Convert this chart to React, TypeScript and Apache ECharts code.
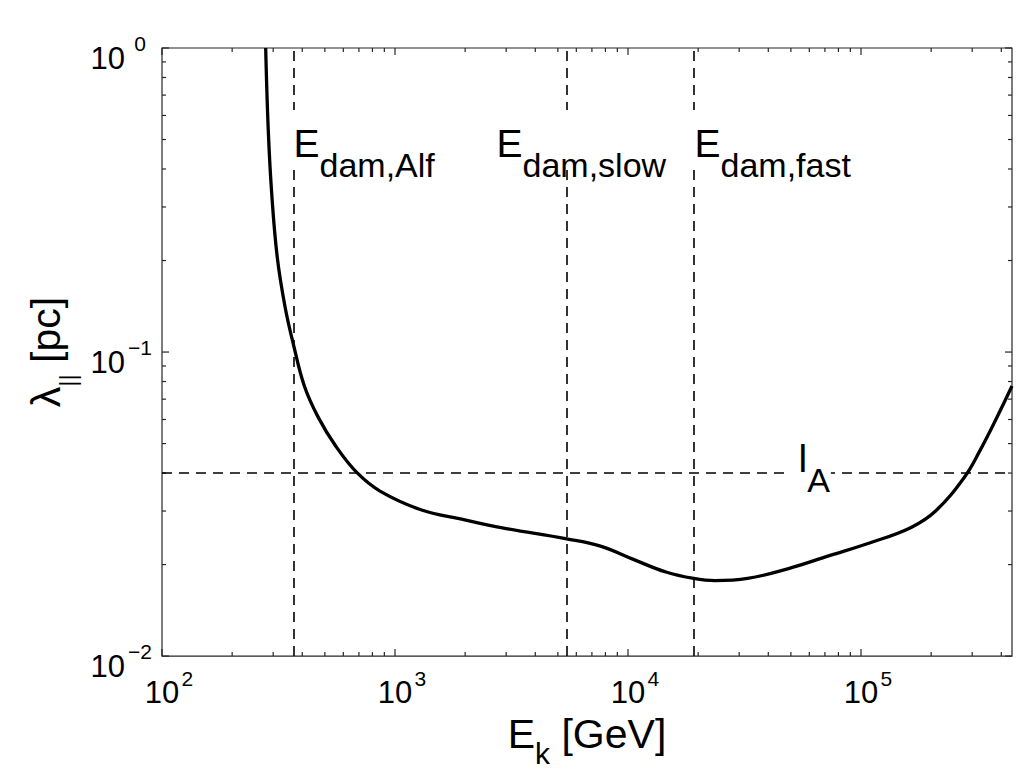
import React, { useEffect, useRef } from "react";
import * as echarts from "echarts";

// ---- data ----
const curveEnergy = [
  278.6, 285.8, 295.8, 312.6, 337.3, 366.4, 408.3, 467.2, 558.2, 686.9, 862.2,
  1291, 1932, 2891, 5458, 7621, 10544, 14555, 19143, 23605, 32584, 48865,
  73114, 109648, 164059, 208930, 277332, 324340, 381944, 444631,
];
const curveLambda = [
  1.0, 0.537, 0.331, 0.204, 0.141, 0.106, 0.0773, 0.0612, 0.0489, 0.0401,
  0.0349, 0.0303, 0.0282, 0.0264, 0.0243, 0.023, 0.0208, 0.0189, 0.018,
  0.0177, 0.018, 0.0194, 0.0214, 0.0236, 0.0265, 0.03, 0.0387, 0.0475,
  0.0607, 0.0773,
];
const dampingEnergies = [368, 5460, 19150]; // E_dam,Alf  E_dam,slow  E_dam,fast
const alfvenScale = 0.0393; // l_A

const xMajorTicks = [100, 1000, 10000, 100000];
const xMinorTicks = [
  200, 300, 400, 500, 600, 700, 800, 900,
  2000, 3000, 4000, 5000, 6000, 7000, 8000, 9000,
  20000, 30000, 40000, 50000, 60000, 70000, 80000, 90000,
  200000, 300000, 400000,
];
const yMajorTicks = [0.01, 0.1, 1];
const yMinorTicks = [
  0.02, 0.03, 0.04, 0.05, 0.06, 0.07, 0.08, 0.09,
  0.2, 0.3, 0.4, 0.5, 0.6, 0.7, 0.8, 0.9,
];

const X_MIN = 100;
const X_MAX = 444631;
const Y_MIN = 0.01;
const Y_MAX = 1;

// annotations: label box top-left, in data coordinates
const annotationMain = ["E", "E", "E", "l"];
const annotationSub = ["dam,Alf", "dam,slow", "dam,fast", "A"];
const annotationX = [357.8, 2660, 18820, 50080];
const annotationY = [0.623, 0.623, 0.623, 0.0533];

const FONT = "'Liberation Sans', Arial, Helvetica, sans-serif";
const AXIS_COLOR = "#262626";
const MAJOR_LEN = 7;
const MINOR_LEN = 4;

function supText(exp: number): string {
  return exp < 0 ? "\u2212" + Math.abs(exp) : String(exp);
}

export default function App() {
  const ref = useRef<HTMLDivElement>(null);

  useEffect(() => {
    if (!ref.current) return;
    const chart = echarts.init(ref.current, undefined, { renderer: "svg" });

    const txt = (size: number, extra: any = {}) => ({
      fontSize: size,
      lineHeight: size,
      verticalAlign: "top",
      fontFamily: FONT,
      color: "#000",
      ...extra,
    });

    // tick marks: [x, y, length, kind]  kind 0 = x-axis tick, 1 = y-axis tick
    const tickData: number[][] = [
      ...xMajorTicks.map((v) => [v, 0.1, MAJOR_LEN, 0]),
      ...xMinorTicks.map((v) => [v, 0.1, MINOR_LEN, 0]),
      ...yMajorTicks.map((v) => [1000, v, MAJOR_LEN, 1]),
      ...yMinorTicks.map((v) => [1000, v, MINOR_LEN, 1]),
    ];

    const curveData = curveEnergy.map((e, i) => [e, curveLambda[i]]);

    const annotationData = annotationX.map((x, i) => ({
      value: [x, annotationY[i]],
      label: {
        padding: i === 3 ? [4, 1, 2, 8] : [14, 4, 2, 3],
        formatter: `{e|${annotationMain[i]}}{d|${annotationSub[i]}}`,
      },
    }));

    chart.setOption({
      animation: false,
      backgroundColor: "#fff",
      grid: {
        left: 162,
        right: 18,
        top: 48,
        bottom: 92,
        containLabel: false,
        show: true,
        borderColor: AXIS_COLOR,
        borderWidth: 1.2,
        backgroundColor: "transparent",
      },
      xAxis: {
        type: "log",
        logBase: 10,
        min: X_MIN,
        max: X_MAX,
        position: "bottom",
        axisLine: { show: false },
        axisTick: { show: false },
        splitLine: { show: false },
        minorTick: { show: false },
        axisLabel: {
          show: true,
          color: "#000",
          customValues: xMajorTicks,
          margin: 12,
          formatter: (v: number) =>
            `{pad| }{b|10}{s|${supText(Math.round(Math.log10(v)))}}`,
          rich: {
            pad: txt(21, { width: 16 }),
            b: txt(31, { padding: [9, 0, 0, 0] }),
            s: txt(21, { width: 16, align: "left" }),
          },
        },
        name: "{e|E}{k|k}{t| [GeV]}",
        nameLocation: "middle",
        nameGap: 43,
        nameTextStyle: {
          color: "#000",
          rich: {
            e: txt(41),
            k: txt(30, { padding: [25, 0, 0, 0] }),
            t: txt(41),
          },
        },
      },
      yAxis: {
        type: "log",
        logBase: 10,
        min: Y_MIN,
        max: Y_MAX,
        position: "left",
        axisLine: { show: false },
        axisTick: { show: false },
        splitLine: { show: false },
        minorTick: { show: false },
        axisLabel: {
          show: true,
          color: "#000",
          customValues: yMajorTicks,
          margin: 7,
          formatter: (v: number) => `{b|10}{s|${supText(Math.round(Math.log10(v)))}}`,
          rich: {
            b: txt(31, { padding: [10, 0, 0, 0] }),
            s: txt(21, { width: 30, align: "left" }),
          },
        },
        name: "{l|\u03bb}{s|||}{t| [pc]}",
        nameLocation: "middle",
        nameRotate: 90,
        nameGap: 92,
        nameTextStyle: {
          color: "#000",
          rich: {
            l: txt(41),
            s: txt(24, { padding: [30, 0, 0, 0] }),
            t: txt(41),
          },
        },
      },
      series: [
        {
          type: "line",
          data: curveData,
          showSymbol: false,
          smooth: 0.4,
          clip: true,
          silent: true,
          z: 3,
          lineStyle: { color: "#000", width: 3.3 },
          markLine: {
            silent: true,
            symbol: ["none", "none"],
            label: { show: false },
            lineStyle: { type: [10, 7], color: "#000", width: 1.6 },
            data: [
              { xAxis: dampingEnergies[0] },
              { xAxis: dampingEnergies[1] },
              { xAxis: dampingEnergies[2] },
              { yAxis: alfvenScale },
            ],
          },
        },
        {
          type: "custom",
          silent: true,
          z: 4,
          clip: false,
          data: tickData,
          renderItem: (_params: any, api: any) => {
            const kind = api.value(3);
            const len = api.value(2);
            const style = { stroke: AXIS_COLOR, lineWidth: 1.2, fill: null };
            if (kind === 0) {
              const b = api.coord([api.value(0), Y_MIN]);
              const t = api.coord([api.value(0), Y_MAX]);
              return {
                type: "group",
                children: [
                  { type: "line", shape: { x1: b[0], y1: b[1], x2: b[0], y2: b[1] - len }, style },
                  { type: "line", shape: { x1: t[0], y1: t[1], x2: t[0], y2: t[1] + len }, style },
                ],
              };
            }
            const l = api.coord([X_MIN, api.value(1)]);
            const r = api.coord([X_MAX, api.value(1)]);
            return {
              type: "group",
              children: [
                { type: "line", shape: { x1: l[0], y1: l[1], x2: l[0] + len, y2: l[1] }, style },
                { type: "line", shape: { x1: r[0], y1: r[1], x2: r[0] - len, y2: r[1] }, style },
              ],
            };
          },
        },
        {
          type: "scatter",
          z: 10,
          silent: true,
          symbolSize: 1,
          itemStyle: { color: "rgba(0,0,0,0)" },
          data: annotationData,
          label: {
            show: true,
            position: [0, 0],
            align: "left",
            verticalAlign: "top",
            color: "#000",
            textBorderWidth: 0,
            opacity: 1,
            backgroundColor: "#fff",
            rich: {
              e: txt(39),
              d: txt(34, { padding: [24, 0, 0, 0] }),
            },
          },
        },
      ],
    });

    return () => chart.dispose();
  }, []);

  return (
    <div
      ref={ref}
      style={{ position: "absolute", left: 0, top: 0, width: 1030, height: 773, background: "#fff" }}
    />
  );
}
